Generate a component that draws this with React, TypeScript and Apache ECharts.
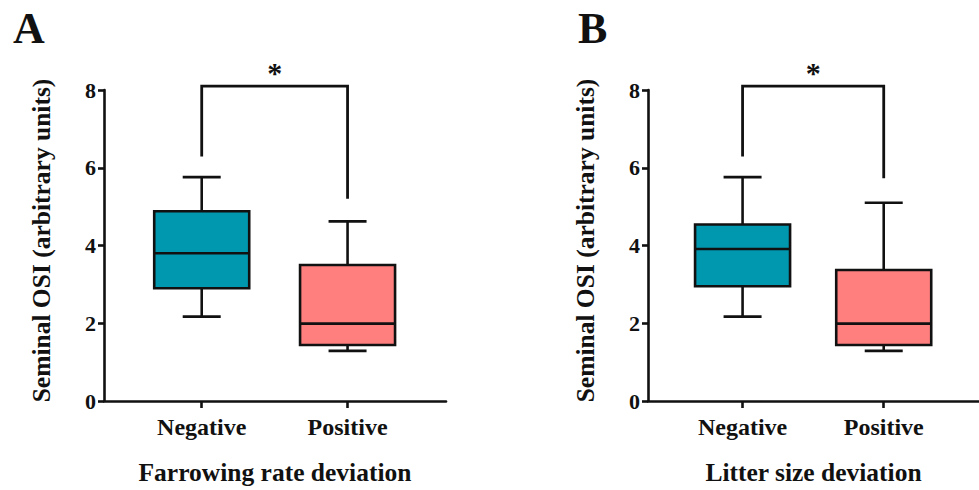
import React, { useEffect, useRef } from "react";
import * as echarts from "echarts";

const categories = ["Negative", "Positive"];
const categoryPositions = [1, 2];
const yTicks = [0, 2, 4, 6, 8];

// [min, Q1, median, Q3, max]
const farrowNegative = [2.17, 2.9, 3.8, 4.88, 5.76];
const farrowPositive = [1.29, 1.44, 1.99, 3.5, 4.62];
const litterNegative = [2.17, 2.95, 3.91, 4.54, 5.76];
const litterPositive = [1.29, 1.44, 1.99, 3.37, 5.1];

// [left leg end, top, right leg end]
const farrowBracket = [6.29, 8.1, 5.2];
const litterBracket = [6.29, 8.1, 5.73];

const panelLetters = ["A", "B"];
const xTitles = ["Farrowing rate deviation", "Litter size deviation"];
const yTitle = "Seminal OSI (arbitrary units)";
const significance = "*";

const boxColors = ["#0098AF", "#FF7F7F"];
const FONT = "Liberation Serif";

export default function App() {
  const ref = useRef<HTMLDivElement>(null);
  useEffect(() => {
    if (!ref.current) return;
    const chart = echarts.init(ref.current, undefined, { renderer: "svg" });
    const LW = 2.6;
    const boxRender = (params: any, api: any) => {
      const x = api.value(0);
      const mn = api.coord([x, api.value(1)]);
      const q1 = api.coord([x, api.value(2)]);
      const md = api.coord([x, api.value(3)]);
      const q3 = api.coord([x, api.value(4)]);
      const mx = api.coord([x, api.value(5)]);
      const cx = mn[0];
      const half = 47.5;
      const cap = 19;
      const color = boxColors[params.dataIndex % boxColors.length];
      const ls = { stroke: "#111", lineWidth: LW };
      return {
        type: "group",
        children: [
          { type: "line", shape: { x1: cx, y1: q3[1], x2: cx, y2: mx[1] }, style: ls },
          { type: "line", shape: { x1: cx, y1: q1[1], x2: cx, y2: mn[1] }, style: ls },
          { type: "line", shape: { x1: cx - cap, y1: mx[1], x2: cx + cap, y2: mx[1] }, style: ls },
          { type: "line", shape: { x1: cx - cap, y1: mn[1], x2: cx + cap, y2: mn[1] }, style: ls },
          {
            type: "rect",
            shape: { x: cx - half, y: q3[1], width: half * 2, height: q1[1] - q3[1] },
            style: { fill: color, stroke: "#111", lineWidth: LW },
          },
          { type: "line", shape: { x1: cx - half, y1: md[1], x2: cx + half, y2: md[1] }, style: ls },
        ],
      };
    };
    const bracketRender = (params: any, api: any) => {
      const x1 = api.value(0);
      const x2 = api.value(1);
      const a = api.coord([x1, api.value(2)]);
      const t1 = api.coord([x1, api.value(3)]);
      const t2 = api.coord([x2, api.value(3)]);
      const b = api.coord([x2, api.value(4)]);
      return {
        type: "group",
        children: [
          {
            type: "polyline",
            shape: { points: [a, t1, t2, b] },
            style: { stroke: "#111", lineWidth: 2.8, fill: null },
          },
          {
            type: "text",
            style: {
              text: significance,
              x: (t1[0] + t2[0]) / 2,
              y: t1[1] + 1,
              align: "center",
              verticalAlign: "bottom",
              font: `bold 30px '${FONT}'`,
              fill: "#111",
            },
          },
        ],
      };
    };

    const lefts = [104, 648];
    const boxesData = [
      [farrowNegative, farrowPositive],
      [litterNegative, litterPositive],
    ];
    const brackets = [farrowBracket, litterBracket];

    const axisLine = { show: true, lineStyle: { color: "#111", width: LW } };
    const option: any = {
      animation: false,
      title: panelLetters.map((t, i) => ({
        text: t,
        left: i === 0 ? 8 : 573,
        top: 1,
        textStyle: { fontFamily: FONT, fontWeight: "bold", fontSize: 44, color: "#111" },
      })),
      grid: lefts.map((l) => ({ left: l, top: 90, width: 342, height: 314 })),
      xAxis: lefts.map((_, i) => ({
        type: "value",
        gridIndex: i,
        min: 0.33,
        max: 2.675,
        axisLine,
        splitLine: { show: false },
        axisTick: {
          show: true,
          customValues: categoryPositions,
          length: 7,
          lineStyle: { color: "#111", width: LW },
        },
        axisLabel: {
          customValues: categoryPositions,
          formatter: (v: number) => categories[categoryPositions.indexOf(Math.round(v))] ?? "",
          fontFamily: FONT,
          fontWeight: "bold",
          fontSize: 24,
          color: "#111",
          margin: 14,
        },
        name: xTitles[i],
        nameLocation: "middle",
        nameGap: 58,
        nameTextStyle: { fontFamily: FONT, fontWeight: "bold", fontSize: 25.5, color: "#111" },
      })),
      yAxis: lefts.map((_, i) => ({
        type: "value",
        gridIndex: i,
        min: 0,
        max: 8,
        interval: 2,
        axisLine,
        splitLine: { show: false },
        axisTick: { show: true, length: 6, lineStyle: { color: "#111", width: LW } },
        axisLabel: {
          fontFamily: FONT,
          fontWeight: "bold",
          fontSize: 22,
          color: "#111",
          margin: 8,
          formatter: (v: number) => (yTicks.includes(v) ? String(v) : ""),
        },
        name: yTitle,
        nameLocation: "middle",
        nameGap: 50,
        nameTextStyle: {
          fontFamily: FONT,
          fontWeight: "bold",
          fontSize: 25.5,
          color: "#111",
          padding: [0, 0, 0, 10],
        },
      })),
      series: [
        ...boxesData.map((boxes, i) => ({
          type: "custom",
          xAxisIndex: i,
          yAxisIndex: i,
          renderItem: boxRender,
          encode: { x: 0, y: [1, 2, 3, 4, 5] },
          data: boxes.map((b, k) => [categoryPositions[k], ...b]),
          clip: false,
        })),
        ...brackets.map((br, i) => ({
          type: "custom",
          xAxisIndex: i,
          yAxisIndex: i,
          renderItem: bracketRender,
          encode: { x: [0, 1], y: [2, 3, 4] },
          data: [[categoryPositions[0], categoryPositions[1], ...br]],
          clip: false,
        })),
      ],
    };
    chart.setOption(option);
    return () => chart.dispose();
  }, []);
  return (
    <div
      ref={ref}
      style={{ position: "fixed", left: 0, top: 0, width: 979, height: 490, background: "#fff" }}
    />
  );
}
